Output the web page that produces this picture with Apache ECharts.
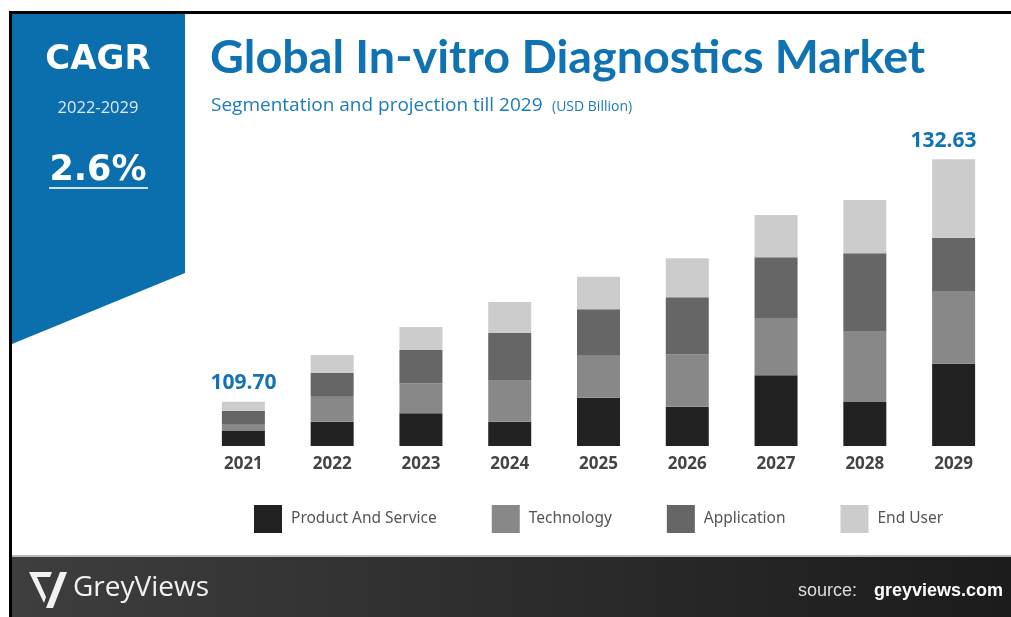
<!DOCTYPE html>
<html>
<head>
<meta charset="utf-8">
<script src="https://cdn.jsdelivr.net/npm/echarts@6/dist/echarts.min.js"></script>
<style>
html,body{margin:0;padding:0;background:#fff;}
#chart{width:1011px;height:617px;}
</style>
</head>
<body>
<div id="chart"></div>
<script>
// ---- data (USD Billion) ----
var years = ['2021','2022','2023','2024','2025','2026','2027','2028','2029'];
var seriesNames = ['Product And Service','Technology','Application','End User'];
// axis baseline (value at the bottom of the bars)
var baseValue = 105.51;
var productAndService = [1.42, 2.30, 3.09, 2.30, 4.57, 3.72, 6.69, 4.16, 7.79];
var technology        = [0.66, 2.37, 2.84, 3.94, 3.97, 4.96, 5.42, 6.72, 6.88];
var application       = [1.26, 2.24, 3.15, 4.45, 4.39, 5.39, 5.74, 7.35, 5.04];
var endUser           = [0.85, 1.70, 2.18, 2.93, 3.08, 3.69, 4.00, 5.04, 7.41];
var totalLabels       = ['109.70', '', '', '', '', '', '', '', '132.63'];
var axisMax = 138.24;

var colors = ['#222222', '#888888', '#666666', '#cccccc'];
var blue = '#0b6fae';

var chart = echarts.init(document.getElementById('chart'), null, {renderer: 'canvas'});

function segSeries(name, data, color, extra) {
  var s = {
    name: name, type: 'bar', stack: 'total', data: data, barWidth: 43,
    itemStyle: {color: color}, emphasis: {disabled: true}, animation: false
  };
  for (var k in extra) s[k] = extra[k];
  return s;
}

var option = {
  animation: false,
  grid: {left: 199, right: 13, top: 100, bottom: 171},
  xAxis: {
    type: 'category', data: years,
    axisLine: {show: false}, axisTick: {show: false},
    axisLabel: {color: '#444', fontSize: 17, fontWeight: 'bold', fontFamily: 'Open Sans', margin: 10}
  },
  yAxis: {type: 'value', min: baseValue, max: axisMax, show: false, splitLine: {show: false}},
  legend: {
    data: seriesNames, left: 254, top: 505, padding: 0, itemWidth: 28, itemHeight: 28, itemGap: 55,
    icon: 'rect', selectedMode: false,
    textStyle: {color: '#555', fontSize: 15.5, fontFamily: 'Noto Sans', padding: [3, 0, 0, 4]}
  },
  series: [
    {name: 'base', type: 'bar', stack: 'total', barWidth: 43,
     data: years.map(function(){ return baseValue; }),
     itemStyle: {color: 'rgba(0,0,0,0)'}, silent: true, legendHoverLink: false},
    segSeries(seriesNames[0], productAndService, colors[0], {}),
    segSeries(seriesNames[1], technology, colors[1], {}),
    segSeries(seriesNames[2], application, colors[2], {}),
    segSeries(seriesNames[3], endUser, colors[3], {
      label: {
        show: true, position: 'top', distance: 8,
        color: '#1173b4', fontSize: 21, fontWeight: 'bold', fontFamily: 'Open Sans',
        formatter: function (p) { return totalLabels[p.dataIndex]; }
      },
      labelLayout: function (p) {
        return p.dataIndex === years.length - 1 ? {dx: -10} : {dx: 0};
      }
    })
  ],
  graphic: [
    // frame
    {type: 'rect', shape: {x: 9, y: 11, width: 1002, height: 3}, style: {fill: '#000'}, z: 10},
    {type: 'rect', shape: {x: 9, y: 11, width: 3, height: 606}, style: {fill: '#000'}, z: 10},
    // CAGR panel
    {type: 'polygon', shape: {points: [[12, 14], [185, 14], [185, 273], [12, 344]]}, style: {fill: blue}, z: 1},
    {type: 'text', x: 98, y: 60, style: {text: 'CAGR', fill: '#fff', font: 'bold 34px "DejaVu Sans"', align: 'center', verticalAlign: 'middle'}, z: 2},
    {type: 'text', x: 98, y: 108, style: {text: '2022-2029', fill: '#dde9f3', font: '16.5px "Open Sans"', align: 'center', verticalAlign: 'middle'}, z: 2},
    {type: 'text', x: 98, y: 171, style: {text: '2.6%', fill: '#fff', font: 'bold 35px "DejaVu Sans"', align: 'center', verticalAlign: 'middle'}, z: 2},
    {type: 'rect', shape: {x: 49, y: 187, width: 99, height: 2}, style: {fill: '#cfe0ee'}, z: 2},
    // title
    {type: 'text', x: 210, y: 58, style: {text: 'Global In-vitro Diagnostics Market', fill: '#0f72b3', font: 'bold 46.7px Lato', verticalAlign: 'middle'}, z: 2},
    {type: 'text', x: 211, y: 106, style: {text: 'Segmentation and projection till 2029', fill: '#1b7bbb', font: '19px "Open Sans"', verticalAlign: 'middle'}, z: 2},
    {type: 'text', x: 552, y: 107, style: {text: '(USD Billion)', fill: '#1b7bbb', font: '14px "Open Sans"', verticalAlign: 'middle'}, z: 2},
    // footer
    {type: 'rect', shape: {x: 12, y: 555, width: 999, height: 2}, style: {fill: '#bbbbbb'}, z: 1},
    {type: 'rect', shape: {x: 12, y: 557, width: 999, height: 60},
     style: {fill: {type: 'linear', x: 0, y: 0, x2: 1, y2: 0, colorStops: [{offset: 0, color: '#3e3e3e'}, {offset: 1, color: '#1c1c1c'}]}}, z: 1},
    // logo mark
    {type: 'polygon', shape: {points: [[29, 572], [52, 572], [50, 577], [37, 577], [46, 597], [44, 603]]}, style: {fill: '#f2f2f2'}, z: 2},
    {type: 'polygon', shape: {points: [[60, 572], [67, 572], [53, 608], [46, 608]]}, style: {fill: '#f2f2f2'}, z: 2},
    {type: 'text', x: 73, y: 588, style: {text: 'GreyViews', fill: '#f2f2f2', font: '28px "Open Sans"', verticalAlign: 'middle'}, z: 2},
    {type: 'text', x: 857, y: 591, style: {text: 'source:', fill: '#dddddd', font: '18px "Liberation Sans"', align: 'right', verticalAlign: 'middle'}, z: 2},
    {type: 'text', x: 1003, y: 591, style: {text: 'greyviews.com', fill: '#ffffff', font: 'bold 18px "Liberation Sans"', align: 'right', verticalAlign: 'middle'}, z: 2}
  ]
};
chart.setOption(option);
</script>
</body>
</html>
